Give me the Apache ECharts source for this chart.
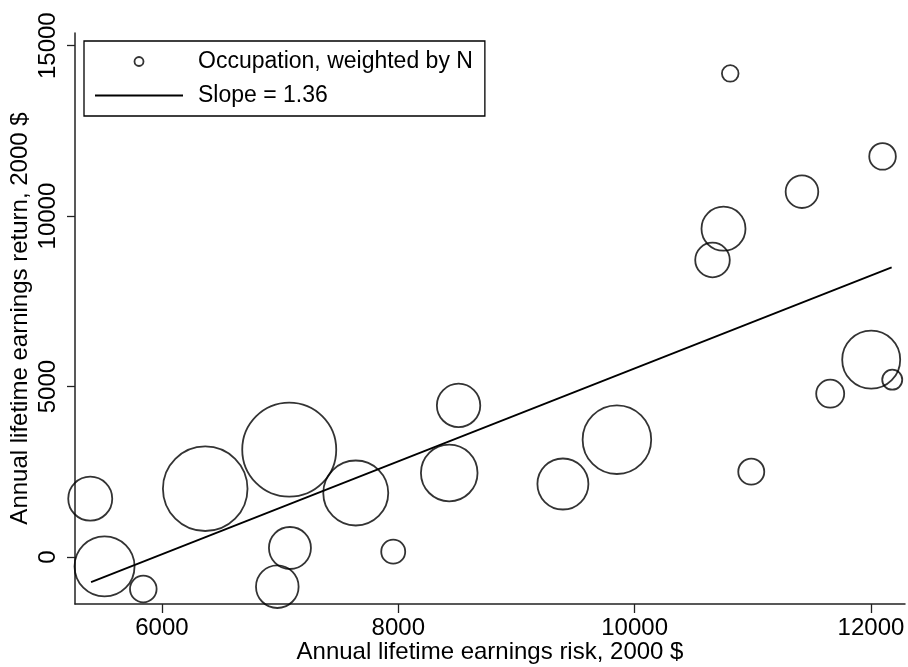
<!DOCTYPE html>
<html>
<head>
<meta charset="utf-8">
<script src="https://cdn.jsdelivr.net/npm/echarts@6/dist/echarts.min.js"></script>
<style>
  html, body { margin: 0; padding: 0; background: #fff; }
  #chart { width: 908px; height: 667px; }
</style>
</head>
<body>
<div id="chart"></div>
<script>
// occupations: risk (x), return (y), weight N
var riskX = [5393, 5514, 5842, 6366, 7077, 7083, 6976, 7640, 8510, 8431, 7957,
  9393, 9850, 10987, 11655, 12180, 12002, 10809, 12098, 11416, 10752, 10659]
var returnY = [1710, -276, -939, 2003, 3148, 264, -871, 1877, 4447, 2464, 155,
  2141, 3441, 2502, 4790, 5200, 5787, 14186, 11751, 10716, 9630, 8712]
var weightN = [484, 900, 177, 1789, 2209, 441, 454, 1056, 471, 801, 144,
  650, 1176, 169, 196, 100, 841, 69, 177, 266, 484, 299]

// fitted line end points
var fitX = [5400, 12175]
var fitY = [-735, 8495]

var xTicks = [6000, 8000, 10000, 12000]
var yTicks = [0, 5000, 10000, 15000]

var font = "'Liberation Sans', Arial, sans-serif"

var bubbles = riskX.map(function(x, i) {
	return [x, returnY[i], weightN[i]]
})
var fitLine = fitX.map(function(x, i) {
	return [x, fitY[i]]
})
var plain = function(v) {
	return String(v)
}

var chart = echarts.init(document.getElementById("chart"))
chart.setOption({
	animation: false,
	grid: { left: 75, right: 3, top: 33, bottom: 63, outerBoundsMode: "none" },
	legend: {
		orient: "vertical",
		left: 84,
		top: 41,
		borderColor: "#000",
		borderWidth: 1.3,
		padding: [9, 12, 9, 11],
		itemWidth: 88,
		itemHeight: 9,
		itemGap: 11,
		textStyle: { fontFamily: font, fontSize: 23, color: "#000", padding: [0, 0, 0, 10] },
		data: [
			{ name: "Occupation, weighted by N", icon: "circle",
				itemStyle: { color: "rgba(0,0,0,0)", borderColor: "#000", borderWidth: 1.8 } },
			{ name: "Slope = 1.36", icon: "path://M0,0 L88,0 L88,2 L0,2 Z",
				itemStyle: { color: "#000", borderWidth: 0 } }
		]
	},
	xAxis: {
		type: "value",
		min: 5264,
		max: 12288,
		name: "Annual lifetime earnings risk, 2000 $",
		nameLocation: "middle",
		nameGap: 36,
		nameMoveOverlap: false,
		nameTextStyle: { fontFamily: font, fontSize: 24, color: "#000" },
		axisLine: { show: true, onZero: false, lineStyle: { color: "#222", width: 1.5 } },
		axisTick: { show: true, length: 9, customValues: xTicks, lineStyle: { color: "#222", width: 1.3 } },
		axisLabel: { margin: 12, customValues: xTicks, formatter: plain, fontFamily: font, fontSize: 24, color: "#000" },
		splitLine: { show: false }
	},
	yAxis: {
		type: "value",
		min: -1379,
		max: 15371,
		name: "Annual lifetime earnings return, 2000 $",
		nameLocation: "middle",
		nameGap: 43,
		nameMoveOverlap: false,
		nameTextStyle: { fontFamily: font, fontSize: 24, color: "#000" },
		axisLine: { show: true, onZero: false, lineStyle: { color: "#222", width: 1.5 } },
		axisTick: { show: true, length: 8, customValues: yTicks, lineStyle: { color: "#222", width: 1.3 } },
		axisLabel: { margin: 15, rotate: 90, customValues: yTicks, formatter: plain, fontFamily: font, fontSize: 24, color: "#000" },
		splitLine: { show: false }
	},
	series: [
		{
			name: "Occupation, weighted by N",
			type: "scatter",
			data: bubbles,
			symbol: "circle",
			symbolSize: function(v) {
				return 2 * Math.sqrt(v[2])
			},
			itemStyle: { color: "rgba(0,0,0,0)", borderColor: "#000", borderWidth: 1.8 },
			emphasis: { disabled: true }
		},
		{
			name: "Slope = 1.36",
			type: "line",
			data: fitLine,
			symbol: "none",
			lineStyle: { color: "#000", width: 1.8 },
			itemStyle: { color: "#000" }
		}
	]
})
</script>
</body>
</html>
